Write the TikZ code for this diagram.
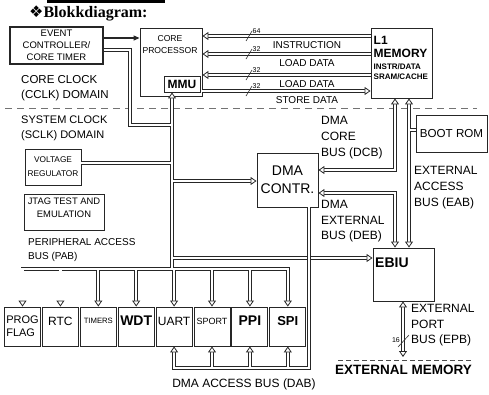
\documentclass[tikz,border=0pt]{standalone}
\usepackage{fontspec}
\setmainfont{Liberation Sans}
\newfontfamily\titlefont{Liberation Serif}
\newfontfamily\symfont{DejaVu Sans}
\usetikzlibrary{arrows.meta}
\newcommand{\fsz}[2]{\fontsize{#1}{#2}\selectfont}

\begin{document}
\begin{tikzpicture}[
  x=1pt, y=-1pt,
  blk/.style={rectangle, draw=black!85, line width=0.9pt, inner sep=0pt, align=center},
  perif/.style={blk, minimum width=36pt, minimum height=39pt},
  bus/.style={draw=black!85, line width=0.8pt, double=white, double distance=2.2pt},
  hollow/.tip={Triangle[length=6pt,width=8pt,fill=white,line width=0.8pt]},
  busto/.style={-hollow},
  busfrom/.style={hollow-},
  busboth/.style={hollow-hollow},
  lbl/.style={inner sep=0pt, align=left, anchor=west},
  wd/.style={inner sep=0pt, font=\fsz{7}{8}},
  slash/.style={draw=black!80, line width=0.6pt}
]
\useasboundingbox (0,0) rectangle (489,394);

% title
\fill (47,0) rectangle (165,2.5);
\node[lbl] (title) at (29,13) {{\symfont\fsz{16}{18}❖}{\titlefont\bfseries\fsz{16}{18}Blokkdiagram:}};

% clock domains
\draw[black!55, line width=0.9pt, dash pattern=on 7pt off 5pt] (5,108) -- (477,108);
\node[lbl, font=\fsz{11.5}{14.5}] (cclk) at (21,88) {CORE CLOCK\\(CCLK) DOMAIN};
\node[lbl, font=\fsz{11}{14.5}] (sclk) at (21,128.5) {SYSTEM CLOCK\\(SCLK) DOMAIN};

% blocks
\node[blk, line width=1.2pt, minimum width=93pt, minimum height=37pt, font=\fsz{9.5}{12}] (ec) at (56.5,45.5) {EVENT\\CONTROLLER/\\CORE TIMER};
\node[blk, minimum width=62pt, minimum height=68pt] (core) at (171,62) {};
\node[inner sep=0pt, align=center, font=\fsz{8.6}{12}] (coretxt) at (170,45) {CORE\\PROCESSOR};
\node[blk, minimum width=36pt, minimum height=16pt, font=\bfseries\fsz{12}{14}] (mmu) at (182,84) {MMU};
\node[blk, minimum width=61pt, minimum height=70pt] (l1) at (401.5,63) {};
\node[lbl, font=\bfseries\fsz{12}{13}] (l1txt) at (373.5,46.5) {L1\\MEMORY};
\node[lbl, font=\bfseries\fsz{8}{10}] (l1sub) at (373.5,72) {INSTR/DATA\\SRAM/CACHE};
\node[blk, minimum width=71pt, minimum height=37pt, font=\fsz{11.6}{14}] (boot) at (451.5,133.5) {BOOT ROM};
\node[blk, minimum width=56pt, minimum height=36pt, font=\fsz{8.3}{14}] (vreg) at (53,167) {VOLTAGE\\REGULATOR};
\node[blk, minimum width=80pt, minimum height=36pt] (jtag) at (64,212) {};
\node[inner sep=0pt, align=center, font=\fsz{9.4}{13}] (jtagtxt) at (64,208) {JTAG TEST AND\\EMULATION};
\node[blk, minimum width=61pt, minimum height=54pt, font=\fsz{14}{18}] (dma) at (287.5,180) {DMA\\CONTR.};
\node[blk, minimum width=61pt, minimum height=53pt] (ebiu) at (403.5,274.5) {};
\node[lbl, font=\bfseries\fsz{14}{16}] (ebiutxt) at (375,263) {EBIU};
\node[lbl, font=\fsz{10}{14}] (pab) at (28,250) {PERIPHERAL ACCESS\\BUS (PAB)};

% peripherals
\foreach \nm/\cx/\ty/\ft/\txt in {
  pflag/22.5/326.5/\fsz{11}{13}/{PROG\\FLAG},
  rtc/60.4/321/\fsz{12}{14}/RTC,
  tmr/98.3/321/\fsz{7.7}{9}/TIMERS,
  wdt/136.2/321/\bfseries\fsz{14}{16}/WDT,
  uart/174.1/321/\fsz{12}{14}/UART,
  sport/212/321/\fsz{9}{11}/SPORT,
  ppi/249.9/321/\bfseries\fsz{14}{16}/PPI,
  spi/287.8/321/\bfseries\fsz{13}{15}/SPI}
{
  \node[perif] (\nm) at (\cx,326.5) {};
  \node[inner sep=0pt, align=left, font=\ft] (\nm-t) at (\cx,\ty) {\txt};
}

\coordinate (tk) at (172,0);
\coordinate (tkl) at (170.9,0);
\coordinate (tkr) at (173.1,0);
\coordinate (dabc) at (309,368);
\coordinate (epbend) at (403,357);

% peripheral access bus
\draw[bus, busboth] (pflag.north) |- (spi.north |- 0,269) -- (spi.north);
\foreach \nm in {rtc,tmr,wdt,uart,sport,ppi}
  \draw[bus, busto] (\nm.north |- 0,270.1) -- (\nm.north);

% core bus trunk and branches
\draw[bus, busfrom] (mmu.south -| tk) -- (tk |- 0,267.9);
\draw[bus] (ec.east |- 0,50) -- (130,50) -- (130,125) -- (tkl |- 0,125);
\draw[bus] (vreg.east |- 0,163) -- (tkl |- 0,163);
\draw[bus, busto] (tkr |- 0,181) -- (dma.west |- 0,181);
\draw[bus, busto] (tkr |- 0,258) -- (ebiu.west |- 0,258);
\draw[draw=black!85, line width=1.2pt, -{Triangle[length=6pt,width=5pt]}] (ec.east |- 0,38) -- (core.west |- 0,38);

% dma access bus
\draw[bus, busfrom] (uart.south) |- (dabc) -- (dabc |- dma.south);
\foreach \nm in {sport,ppi,spi}
  \draw[bus, busto] (\nm.south |- 0,366.9) -- (\nm.south);
\node[font=\fsz{12}{14}, inner sep=0pt] (dab) at (244,384) {DMA ACCESS BUS (DAB)};

% core to L1 memory
\foreach \y/\w/\txt/\tp in {36/64/INSTRUCTION/busfrom, 54/32/LOAD DATA/busfrom, 75/32/LOAD DATA/busfrom, 91/32/STORE DATA/busto}
{
  \draw[bus, \tp] (core.east |- 0,\y) -- (l1.west |- 0,\y);
  \draw[slash] (246,\y+5) -- (252,\y-5);
  \node[wd, anchor=south west] (w\y) at (252.5,\y-2) {\w};
  \node[font=\fsz{10}{12}, inner sep=0pt] (t\y) at (307,\y+9) {\txt};
}

% dma and external buses
\draw[bus, busboth] (l1.south -| 395,0) |- (dma.east |- 0,170);
\draw[bus, busboth] (dma.east |- 0,193) -| (ebiu.north -| 395,0);
\draw[bus, busboth] (l1.south -| 409,0) -- (ebiu.north -| 409,0);
\draw[bus] (410.1,130) -- (boot.west |- 0,130);
\node[lbl, font=\fsz{12}{16}] (dcb) at (321,138) {DMA\\CORE\\BUS (DCB)};
\node[lbl, font=\fsz{12}{15.5}] (deb) at (321,221.5) {DMA\\EXTERNAL\\BUS (DEB)};
\node[lbl, font=\fsz{12}{16}] (eab) at (414,188) {EXTERNAL\\ACCESS\\BUS (EAB)};

% external port
\draw[bus, busboth] (ebiu.south -| epbend) -- (epbend);
\draw[slash] (398,347) -- (409,335);
\node[wd, anchor=east] (w16) at (400,340) {16};
\node[lbl, font=\fsz{12}{15.5}] (epb) at (411,325.5) {EXTERNAL\\PORT\\BUS (EPB)};
\draw[black!70, line width=0.7pt, dash pattern=on 5pt off 3pt] (338,360) -- (472,360);
\node[font=\bfseries\fsz{13.5}{16}, inner sep=0pt] (extmem) at (403.5,370) {EXTERNAL MEMORY};
\end{tikzpicture}
\end{document}
